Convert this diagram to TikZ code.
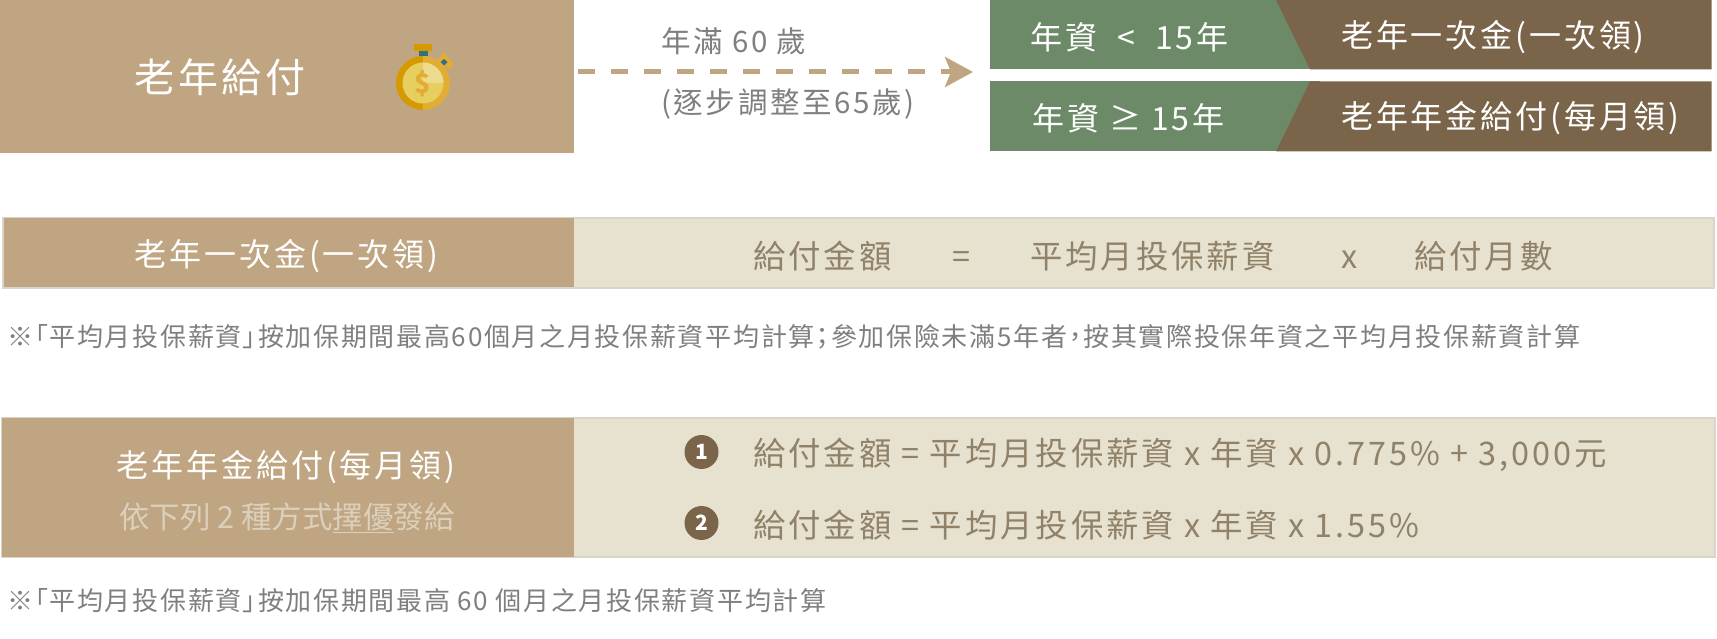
\documentclass[tikz,border=0pt]{standalone}
\usepackage{fontspec}
\setmainfont{Noto Sans CJK TC}
\newfontfamily\widefont[LetterSpace=9]{Noto Sans CJK TC}
\newfontfamily\notefont[RawFeature=+palt,LetterSpace=6.5]{Noto Sans CJK TC}
\usetikzlibrary{arrows.meta}
\definecolor{sand}{HTML}{BFA582}
\definecolor{cream}{HTML}{E7E1CF}
\definecolor{edgegrey}{HTML}{D9D5C9}
\definecolor{leaf}{HTML}{6D8A68}
\definecolor{umber}{HTML}{7A654A}
\definecolor{formula}{HTML}{8F8269}
\definecolor{note}{HTML}{7F7F7F}
\definecolor{pale}{HTML}{DCD0BC}
\definecolor{coindark}{HTML}{D69A00}
\definecolor{coinmid}{HTML}{E3AC34}
\definecolor{coinface}{HTML}{E6CF5E}
\definecolor{coinshine}{HTML}{EBDB8F}
\definecolor{teal}{HTML}{35707F}

\begin{document}
\begin{tikzpicture}[x=1pt, y=-1pt, inner sep=0pt,
    block/.style = {rectangle, minimum width=#1},
    creambox/.style = {draw=edgegrey, fill=cream, line width=2pt},
    head/.style = {text=white, font=\widefont\fontsize{32}{38}\selectfont},
    calc/.style = {text=formula, anchor=west, text height=28.5pt, text depth=4pt, font=\widefont\fontsize{32.4}{38}\selectfont},
    remark/.style = {text=note, anchor=west, font=\notefont\fontsize{26}{31}\selectfont},
    age/.style = {text=note, anchor=west, font=\widefont\fontsize{29.5}{35}\selectfont},
    badge/.style = {circle, fill=umber, text=white, minimum size=34pt, font=\bfseries\fontsize{21}{25}\selectfont}]
    \useasboundingbox (0,0) rectangle (1717,639);

    % top row
    \node[block=574pt, fill=sand, minimum height=153pt] (pay) at (287,76.5) {};
    \node[text=white, font=\widefont\fontsize{40}{46}\selectfont] (payname) at (220,77) {老年給付};

    \fill[coindark] (423,56) arc (270:90:27) -- cycle;
    \fill[coinmid] (423,56) arc (-90:90:27) -- cycle;
    \fill[coinface] (423,83) circle (20.5);
    \fill[coinshine] (423,83) -- (423,62.5) arc (-90:0:20.5) -- cycle;
    \fill[coindark] (414,44) rectangle (432,51);
    \fill[teal] (419,51) rectangle (428,56);
    \fill[coinmid] (438,60) -- (443,52) -- (454,64) -- (449,69) -- cycle;
    \fill[teal] (444,59) -- (447.5,62) -- (444,65.5) -- (440.5,62) -- cycle;
    \node[text=coinmid, font=\bfseries\fontsize{27}{30}\selectfont] (dollar) at (423,84) {\$};

    \coordinate (from) at (578,72);
    \coordinate (to) at (973,72);
    \path[-{Stealth[length=28pt, width=30pt, inset=6pt]}, color=sand, line width=5pt, dash pattern=on 16.5pt off 16.5pt] (from) edge (to);
    \node[age] (full) at (661,41) {年滿 60 歲};
    \node[age] (adjust) at (661,104) {(逐步調整至65歲)};

    \fill[leaf] (990,0) rectangle (1320,69.5);
    \fill[leaf] (990,81.5) rectangle (1320,151.5);
    \fill[umber] (1276,0) -- (1711.5,0) -- (1711.5,69.5) -- (1310,69.5) -- cycle;
    \fill[umber] (1310,81.5) -- (1711.5,81.5) -- (1711.5,151.5) -- (1276,151.5) -- cycle;
    \node[head, anchor=west] (less) at (1030,37) {年資\ \ <\ \ 15年};
    \node[head, anchor=west] (more) at (1032,118) {年資 ≥ 15年};
    \node[head, anchor=west] (lump) at (1341,37) {老年一次金(一次領)};
    \node[head, anchor=west] (month) at (1341,118) {老年年金給付(每月領)};

    % lump sum row
    \node[block=1711pt, creambox, minimum height=70pt] (lumprow) at (858.5,253) {};
    \node[block=570pt, fill=sand, minimum height=69pt] (lumpside) at (289,253) {};
    \node[head] (lumpname) at (286.5,256) {老年一次金(一次領)};
    \node[calc] (amount) at (753,256) {給付金額};
    \node[calc] (equals) at (952,256) {=};
    \node[calc] (avg) at (1030,256) {平均月投保薪資};
    \node[calc] (times) at (1341,256) {x};
    \node[calc] (months) at (1414,256) {給付月數};
    \node[remark] (lumpnote) at (7,337) {※「平均月投保薪資」按加保期間最高60個月之月投保薪資平均計算；參加保險未滿5年者，按其實際投保年資之平均月投保薪資計算};

    % pension row
    \node[block=1713pt, creambox, minimum height=139pt] (penrow) at (858.5,487) {};
    \node[block=572pt, fill=sand, minimum height=139pt] (penside) at (288,487.5) {};
    \node[head] (penname) at (286,467) {老年年金給付(每月領)};
    \node[text=pale, font=\fontsize{30.5}{36}\selectfont] (pick) at (287,518) {依下列 2 種方式\underline{擇優}發給};
    \node[badge] (one) at (701.5,452) {1};
    \node[badge] (two) at (701.5,523) {2};
    \node[calc] (formone) at (753,453) {給付金額 = 平均月投保薪資 x 年資 x 0.775\% + 3,000元};
    \node[calc] (formtwo) at (753,525) {給付金額 = 平均月投保薪資 x 年資 x 1.55\%};
    \node[remark] (pennote) at (7,601) {※「平均月投保薪資」按加保期間最高 60 個月之月投保薪資平均計算};
\end{tikzpicture}
\end{document}
